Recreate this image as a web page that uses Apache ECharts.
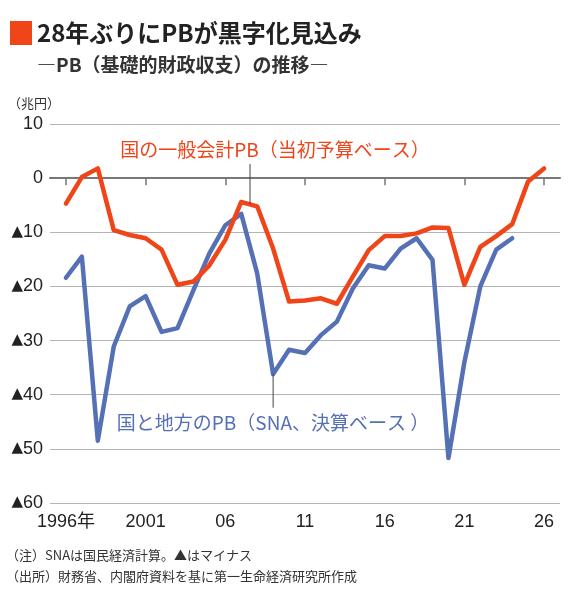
<!DOCTYPE html>
<html>
<head>
<meta charset="utf-8">
<script src="https://cdn.jsdelivr.net/npm/echarts@6/dist/echarts.min.js"></script>
<style>
html,body{margin:0;padding:0;background:#fff;}
#c{width:570px;height:590px;}
</style>
</head>
<body>
<div id="c"></div>
<script>
// ---- data ----
const redYears = [1996,1997,1998,1999,2000,2001,2002,2003,2004,2005,2006,2007,2008,2009,2010,2011,2012,2013,2014,2015,2016,2017,2018,2019,2020,2021,2022,2023,2024,2025,2026];
const redValues = [-4.7,0.2,1.8,-9.6,-10.5,-11.1,-13.2,-19.7,-19.1,-16.1,-11.4,-4.4,-5.2,-13.0,-22.8,-22.6,-22.2,-23.2,-18.2,-13.3,-10.7,-10.7,-10.2,-9.1,-9.2,-19.7,-12.7,-10.7,-8.5,-0.6,1.8];
const blueYears = [1996,1997,1998,1999,2000,2001,2002,2003,2004,2005,2006,2007,2008,2009,2010,2011,2012,2013,2014,2015,2016,2017,2018,2019,2020,2021,2022,2023,2024];
const blueValues = [-18.4,-14.5,-48.5,-31.1,-23.7,-21.8,-28.4,-27.7,-20.7,-13.9,-8.7,-6.6,-17.6,-36.2,-31.7,-32.3,-29.0,-26.5,-20.4,-16.1,-16.7,-13.0,-11.1,-15.1,-51.7,-34.0,-20.0,-13.2,-11.1];
const xTickYears = [1996,2001,2006,2011,2016,2021,2026];
const xTickLabels = ['1996年','2001','06','11','16','21','26'];
const yTicks = [10,0,-10,-20,-30,-40,-50,-60];

const titleText = '28年ぶりにPBが黒字化見込み';
const subtitleText = '―PB（基礎的財政収支）の推移―';
const unitText = '（兆円）';
const redLabel = '国の一般会計PB（当初予算ベース）';
const blueLabel = '国と地方のPB（SNA、決算ベース ）';
const note1 = '（注）SNAは国民経済計算。▲はマイナス';
const note2 = '（出所）財務省、内閣府資料を基に第一生命経済研究所作成';

const RED = '#ef4518';
const BLUE = '#5670b6';
const FONT = '"Liberation Sans","Noto Sans CJK JP",sans-serif';
const JFONT = '"Noto Sans CJK JP",sans-serif';

const chart = echarts.init(document.getElementById('c'), null, {renderer:'canvas'});

const gridColors = yTicks.slice().reverse().map(v => v === 0 ? '#555' : '#b4b4b4');

chart.setOption({
  animation:false,
  backgroundColor:'#fff',
  grid:{left:50,right:10,top:124,bottom:87,containLabel:false},
  xAxis:{
    type:'value', min:1995, max:2027,
    axisLine:{show:true,lineStyle:{color:'#777',width:2}},
    axisTick:{show:true,length:7,lineStyle:{color:'#777',width:1.5},customValues:xTickYears},
    axisLabel:{customValues:xTickYears,color:'#222',fontSize:18,fontFamily:FONT,margin:10,
      formatter:function(v){const i=xTickYears.indexOf(Math.round(v));return i>=0?xTickLabels[i]:'';}},
    splitLine:{show:false}
  },
  yAxis:{
    type:'value', min:-60, max:10, interval:10,
    axisLine:{show:false}, axisTick:{show:false},
    axisLabel:{color:'#222',fontSize:18,fontFamily:FONT,margin:7,
      formatter:function(v){return v<0?'{t|▲}{n|'+(-v)+'}':'{n|'+v+'}';},
      rich:{
        t:{fontSize:15,fontFamily:'"DejaVu Sans",sans-serif',color:'#222',padding:[0,0,1,0]},
        n:{fontSize:18,fontFamily:FONT,color:'#222'}
      }},
    splitLine:{show:true,lineStyle:{color:gridColors,width:1.2}}
  },
  series:[
    {type:'line',name:'blue',data:blueYears.map((y,i)=>[y,blueValues[i]]),showSymbol:false,
     lineStyle:{color:BLUE,width:4.5,cap:'round',join:'round'},itemStyle:{color:BLUE},z:3},
    {type:'line',name:'red',data:redYears.map((y,i)=>[y,redValues[i]]),showSymbol:false,
     lineStyle:{color:RED,width:4.5,cap:'round',join:'round'},itemStyle:{color:RED},z:4}
  ]
});

// annotations positioned via the chart's scales
const rTop = chart.convertToPixel({gridIndex:0},[2007.55,2.6]);
const rBot = chart.convertToPixel({gridIndex:0},[2007.55,-4.8]);
const bTop = chart.convertToPixel({gridIndex:0},[2009,-36.2]);
const bBot = chart.convertToPixel({gridIndex:0},[2009,-42.4]);

chart.setOption({
  graphic:[
    {type:'rect',shape:{x:10,y:21,width:22,height:24},style:{fill:RED}},
    {type:'text',x:37,y:33,style:{text:titleText,fill:'#222',font:'bold 24px '+JFONT,textVerticalAlign:'middle'}},
    {type:'text',x:37,y:65,style:{text:subtitleText,fill:'#333',font:'bold 19px '+JFONT,textVerticalAlign:'middle'}},
    {type:'text',x:8,y:103,style:{text:unitText,fill:'#333',font:'13px '+JFONT,textVerticalAlign:'middle'}},
    {type:'line',shape:{x1:rTop[0],y1:rTop[1],x2:rBot[0],y2:rBot[1]},style:{stroke:'#444',lineWidth:1},z:10},
    {type:'text',x:275,y:150,style:{text:redLabel,fill:RED,font:'19px '+JFONT,textAlign:'center',textVerticalAlign:'middle'},z:10},
    {type:'line',shape:{x1:bTop[0],y1:bTop[1],x2:bBot[0],y2:bBot[1]},style:{stroke:'#444',lineWidth:1},z:10},
    {type:'text',x:273,y:423,style:{text:blueLabel,fill:BLUE,font:'19px '+JFONT,textAlign:'center',textVerticalAlign:'middle'},z:10},
    {type:'text',x:6,y:555,style:{text:note1,fill:'#333',font:'13px '+JFONT,textVerticalAlign:'middle'}},
    {type:'text',x:6,y:576,style:{text:note2,fill:'#333',font:'13px '+JFONT,textVerticalAlign:'middle'}}
  ]
});
</script>
</body>
</html>
